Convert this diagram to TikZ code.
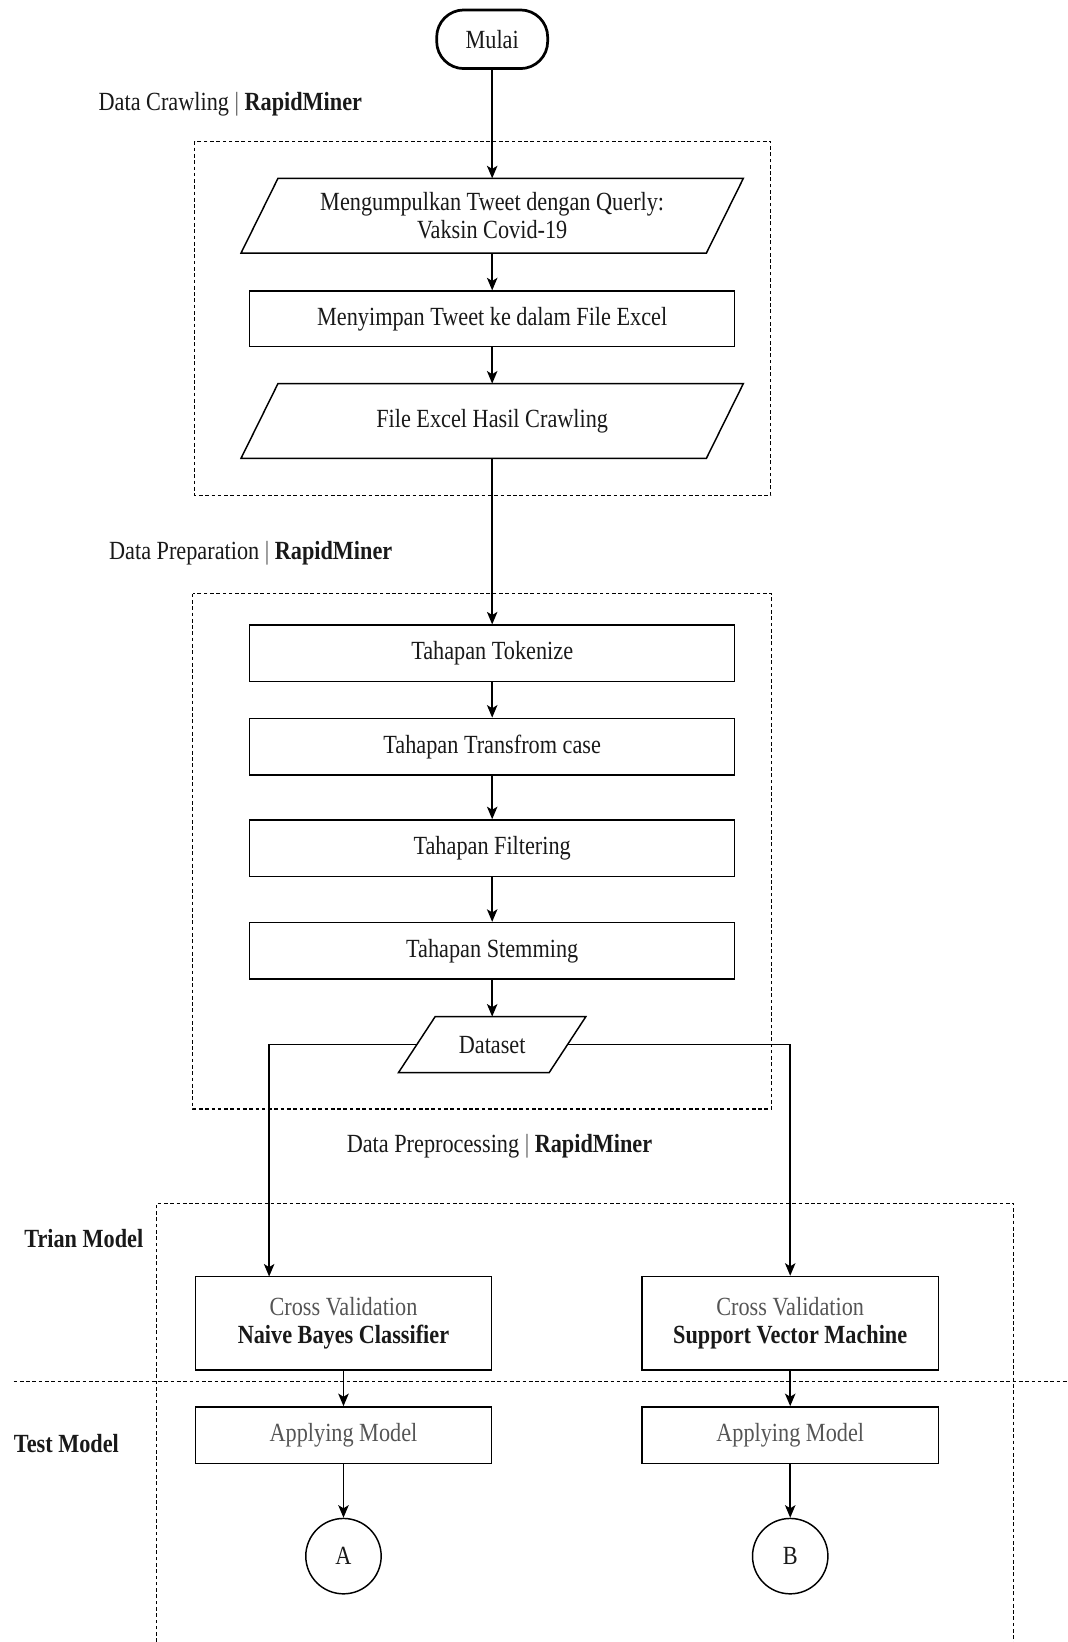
\documentclass[tikz,border=0pt]{standalone}
\usepackage{fontspec}
\setmainfont{Liberation Serif}[FakeStretch=0.85]
\usetikzlibrary{arrows.meta}
\definecolor{txtgray}{HTML}{555555}
\newcommand\drawpara[2]{\draw[boxline] ([xshift=#2]#1.north west) -- ([xshift=#2]#1.north east) -- ([xshift=-#2]#1.south east) -- ([xshift=-#2]#1.south west) -- cycle;}
\begin{document}
\begin{tikzpicture}[x=1pt,y=-1pt,
  every node/.style={font=\fontsize{25}{27}\selectfont, inner sep=0pt, text=black!90},
  boxline/.style={draw=black, line width=1.4pt},
  procbox/.style={boxline, rectangle, minimum width=463pt, minimum height=53pt, align=center},
  modelbox/.style={boxline, rectangle, minimum width=283pt, align=center},
  paratext/.style={rectangle, align=center},
  terminal/.style={draw=black, line width=2.6pt, rectangle, rounded corners=26pt, minimum width=106pt, minimum height=56pt},
  connector/.style={boxline, circle, minimum size=72pt},
  arr/.style={-{Stealth[length=12pt,width=10pt,inset=3pt]}, line width=1.4pt},
  dashbox/.style={draw=black, line width=1pt, dash pattern=on 3.5pt off 2.5pt},
  grouplabel/.style={anchor=west},
  lanelabel/.style={font=\fontsize{25}{27}\selectfont\bfseries}
]
\useasboundingbox (0,0) rectangle (1019,1568);

% group frames
\draw[dashbox] (186,135) rectangle (736,473);
\draw[dashbox] (184,567) rectangle (737,1059);
\draw[dashbox] (149.6,1568) -- (149.6,1149) -- (968,1149) -- (968,1568);
\draw[dashbox] (13,1319.5) -- (1019,1319.5);

% labels
\node[grouplabel] (lab1) at (94,99.3) {Data Crawling {\color{txtgray}|} \textbf{RapidMiner}};
\node[grouplabel] (lab2) at (104,528) {Data Preparation {\color{txtgray}|} \textbf{RapidMiner}};
\node (lab3) at (477,1095) {Data Preprocessing {\color{txtgray}|} \textbf{RapidMiner}};
\node[lanelabel] (lane1) at (80,1183) {Trian Model};
\node[lanelabel] (lane2) at (63.4,1378) {Test Model};

% nodes
\node[terminal] (mulai) at (470,37.5) {Mulai};
\node[paratext, minimum width=444pt, minimum height=71pt, font=\fontsize{25}{26}\selectfont] (p1) at (470,206) {Mengumpulkan Tweet dengan Querly:\\Vaksin Covid-19};
\drawpara{p1}{17.65pt}
\node[procbox] (simpan) at (470,304.5) {Menyimpan Tweet ke dalam File Excel};
\node[paratext, minimum width=444pt, minimum height=71pt] (p2) at (470,402) {File Excel Hasil Crawling};
\drawpara{p2}{17.65pt}

\node[procbox, minimum height=54pt] (tok) at (470,624) {Tahapan Tokenize};
\node[procbox, minimum height=54pt] (trans) at (470,713) {Tahapan Transfrom case};
\node[procbox, minimum height=54pt] (filt) at (470,810) {Tahapan Filtering};
\node[procbox, minimum height=54pt] (stem) at (470,908) {Tahapan Stemming};
\node[paratext, minimum width=143.5pt, minimum height=53pt] (ds) at (470,997.5) {Dataset};
\drawpara{ds}{17.5pt}

\node[modelbox, minimum height=89.5pt] (nb) at (328,1263.7) {{\color{txtgray}Cross Validation}\\\textbf{Naive Bayes Classifier}};
\node[modelbox, minimum height=89.5pt] (svm) at (754.6,1263.7) {{\color{txtgray}Cross Validation}\\\textbf{Support Vector Machine}};
\node[modelbox, minimum height=54pt, text=txtgray] (appa) at (328,1370.5) {Applying Model};
\node[modelbox, minimum height=54pt, text=txtgray] (appb) at (754.6,1370.5) {Applying Model};
\node[connector] (ca) at (328,1486) {A};
\node[connector] (cb) at (754.6,1486) {B};
\coordinate (nbin) at (257,1219);

% connectors
\draw[arr] (mulai) -- (p1);
\draw[arr] (p1) -- (simpan);
\draw[arr] (simpan) -- (p2);
\draw[arr] (p2) -- (tok);
\draw[arr] (tok) -- (trans);
\draw[arr] (trans) -- (filt);
\draw[arr] (filt) -- (stem);
\draw[arr] (stem) -- (ds);
\draw[arr] (ds.west) -| (nbin);
\draw[arr] (ds.east) -| (svm.north);
\draw[arr] (nb) -- (appa);
\draw[arr] (svm) -- (appb);
\draw[arr] (appa) -- (ca);
\draw[arr] (appb) -- (cb);
\end{tikzpicture}
\end{document}
